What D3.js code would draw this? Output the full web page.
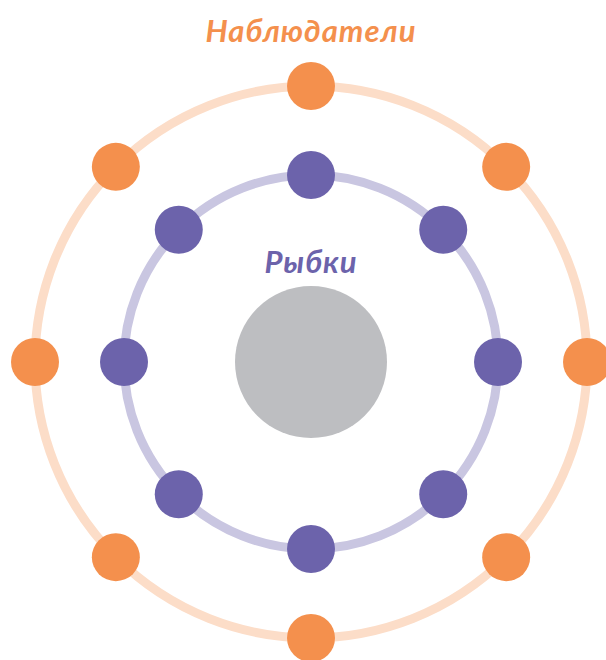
<!DOCTYPE html>
<html><head><meta charset="utf-8">
<script src="https://cdn.jsdelivr.net/npm/d3@7"></script>
<style>html,body{margin:0;padding:0;background:#fff;}svg{display:block;}</style>
</head><body>
<script>
// Data
const ringNames = ["Рыбки", "Наблюдатели"];
const ringCounts = [8, 8];
const ringColors = ["#6C63AB", "#F4904D"];
const ringTrackColors = ["#C9C6E1", "#FCDDC8"];
const centerColor = "#BDBEC1";

const W = 606, H = 660, cx = 311, cy = 362;
const svg = d3.select("body").append("svg").attr("width", W).attr("height", H);

const radius = d3.scaleOrdinal().domain(["center", ...ringNames]).range([76, 187, 276]);
const g = svg.append("g").attr("transform", `translate(${cx},${cy})`);

// tracks
g.selectAll("circle.track").data(ringNames).join("circle")
  .attr("class", "track").attr("r", d => radius(d))
  .attr("fill", "none").attr("stroke", (d, i) => ringTrackColors[i]).attr("stroke-width", 9);

// center
g.append("circle").attr("r", radius("center")).attr("fill", centerColor);

// dots
ringNames.forEach((name, i) => {
  const angle = d3.scaleLinear().domain([0, ringCounts[i]]).range([0, 2 * Math.PI]);
  const r = radius(name);
  g.selectAll("circle.dot" + i).data(d3.range(ringCounts[i])).join("circle")
    .attr("class", "dot" + i)
    .attr("cx", k => r * Math.sin(angle(k)))
    .attr("cy", k => -r * Math.cos(angle(k)))
    .attr("r", 24)
    .attr("fill", ringColors[i]);
});

// labels
svg.append("text").attr("x", 311).attr("y", 42).attr("text-anchor", "middle")
  .attr("font-family", "Lato, 'Open Sans', sans-serif").attr("font-style", "italic").attr("font-weight", "bold")
  .attr("font-size", 31).attr("fill", ringColors[1]).attr("letter-spacing", 1).text(ringNames[1]);
svg.append("text").attr("x", 311).attr("y", 273).attr("text-anchor", "middle")
  .attr("font-family", "Lato, 'Open Sans', sans-serif").attr("font-style", "italic").attr("font-weight", "bold")
  .attr("font-size", 31).attr("fill", ringColors[0]).attr("letter-spacing", 1).text(ringNames[0]);
</script>
</body></html>
